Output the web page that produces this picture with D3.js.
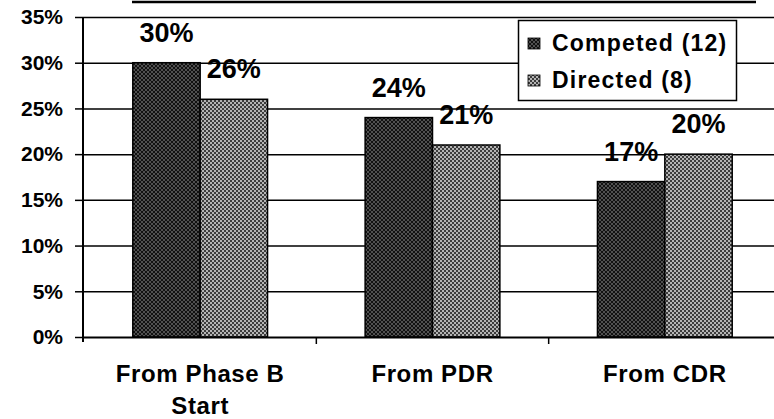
<!DOCTYPE html>
<html><head><meta charset="utf-8">
<script src="https://cdn.jsdelivr.net/npm/d3@7"></script>
<style>
html,body{margin:0;padding:0;background:#fff;}
svg{display:block;font-family:"Liberation Sans",Arial,sans-serif;font-weight:bold;}
</style></head>
<body>
<svg id="c" width="774" height="419"></svg>
<script>
const categories = ["From Phase B Start", "From PDR", "From CDR"];
const categoryLines = [["From Phase B", "Start"], ["From PDR"], ["From CDR"]];
const seriesNames = ["Competed (12)", "Directed (8)"];
const competed = [30, 24, 17];
const directed = [26, 21, 20];
const yTicks = [0, 5, 10, 15, 20, 25, 30, 35];

const svg = d3.select("#c");
const defs = svg.append("defs");
// Competed pattern: dark crosshatch
const p1 = defs.append("pattern").attr("id","pComp").attr("width",4).attr("height",4).attr("patternUnits","userSpaceOnUse");
p1.append("rect").attr("width",4).attr("height",4).attr("fill","#111");
p1.append("path").attr("d","M0,0 L4,4 M4,0 L0,4").attr("stroke","#7a7a7a").attr("stroke-width",0.6);
// Directed pattern: grey checker
const p2 = defs.append("pattern").attr("id","pDir").attr("width",4).attr("height",4).attr("patternUnits","userSpaceOnUse");
p2.append("rect").attr("width",4).attr("height",4).attr("fill","#3c3c3c");
p2.append("rect").attr("width",2).attr("height",2).attr("fill","#b4b4b4");
p2.append("rect").attr("x",2).attr("y",2).attr("width",2).attr("height",2).attr("fill","#b4b4b4");

const pLeft = 83, pRight = 781, pTop = 17, pBottom = 337;
const y = d3.scaleLinear().domain([0,35]).range([pBottom, pTop]);
const x0 = d3.scaleBand().domain(categories).range([pLeft+1, pRight]).padding(0);
const bw = x0.bandwidth();
const x1 = d3.scaleBand().domain(seriesNames).range([bw*0.21, bw*0.79]).padding(0);

// decorative top border remnant
svg.append("line").attr("x1",132).attr("x2",756).attr("y1",2).attr("y2",2).attr("stroke","#000").attr("stroke-width",2.5);

// gridlines
svg.append("g").selectAll("line").data(yTicks.filter(d=>d>0)).join("line")
  .attr("x1",pLeft).attr("x2",774).attr("y1",d=>y(d)+0.5).attr("y2",d=>y(d)+0.5)
  .attr("stroke","#000").attr("stroke-width",1.5);

// bars
const data = categories.map((c,i)=>({cat:c, vals:[competed[i], directed[i]]}));
const fills = ["url(#pComp)","url(#pDir)"];
const g = svg.append("g");
data.forEach(d=>{
  d.vals.forEach((v,j)=>{
    g.append("rect")
      .attr("x", x0(d.cat)+x1(seriesNames[j]))
      .attr("y", y(v))
      .attr("width", x1.bandwidth())
      .attr("height", y(0)-y(v))
      .attr("fill", fills[j])
      .attr("stroke","#000").attr("stroke-width",1.5);
  });
});

// axes
const yAxis = d3.axisLeft(y).tickValues(yTicks).tickSize(8).tickSizeOuter(0).tickPadding(12).tickFormat(d=>d+"%");
const ya = svg.append("g").attr("transform",`translate(${pLeft},0)`).call(yAxis);
ya.select(".domain").attr("stroke","#000").attr("stroke-width",2).attr("d",`M0,${pTop}V${pBottom+5}`);
ya.selectAll(".tick line").attr("stroke","#000").attr("stroke-width",1.5);
ya.selectAll(".tick text").attr("font-size",21).attr("font-weight","bold").attr("fill","#000")
  .attr("font-family","Liberation Sans, Arial, sans-serif");

svg.append("line").attr("x1",pLeft).attr("x2",774).attr("y1",pBottom+0.5).attr("y2",pBottom+0.5).attr("stroke","#000").attr("stroke-width",2);
// category ticks
svg.append("g").selectAll("line").data(categories.slice(1)).join("line")
  .attr("x1",d=>x0(d)).attr("x2",d=>x0(d)).attr("y1",pBottom).attr("y2",pBottom+7)
  .attr("stroke","#000").attr("stroke-width",1.5);

// category labels
const cl = svg.append("g");
categories.forEach((c,i)=>{
  categoryLines[i].forEach((ln,k)=>{
    cl.append("text").attr("x", x0(c)+bw/2).attr("y", 382 + k*32)
      .attr("text-anchor","middle").attr("font-size",24).attr("letter-spacing",0.6).text(ln);
  });
});

// value labels
const vl = svg.append("g");
data.forEach(d=>{
  d.vals.forEach((v,j)=>{
    vl.append("text")
      .attr("x", x0(d.cat)+x1(seriesNames[j])+x1.bandwidth()/2)
      .attr("y", y(v)-21)
      .attr("text-anchor","middle").attr("font-size",27).text(v+"%");
  });
});

// legend
const lg = svg.append("g");
lg.append("rect").attr("x",518.5).attr("y",20.5).attr("width",218).attr("height",80)
  .attr("fill","#fff").attr("stroke","#000").attr("stroke-width",1.5);
seriesNames.forEach((s,j)=>{
  lg.append("rect").attr("x",528).attr("y",38+j*37).attr("width",12).attr("height",11)
    .attr("fill",fills[j]).attr("stroke","#000").attr("stroke-width",0.8);
  lg.append("text").attr("x",552).attr("y",51+j*37).attr("font-size",23).attr("letter-spacing",1.2).text(s);
});
</script>
</body></html>
